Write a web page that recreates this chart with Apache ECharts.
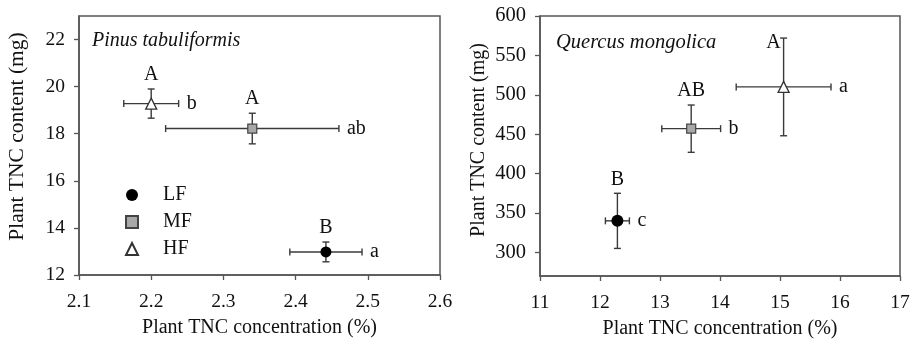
<!DOCTYPE html>
<html><head><meta charset="utf-8">
<script src="https://cdn.jsdelivr.net/npm/echarts@6/dist/echarts.min.js"></script>
<style>html,body{margin:0;padding:0;background:#fff}#c{width:914px;height:339px}</style>
</head><body><div id="c"></div>
<script>
// ---- data ----
const groups = ['LF', 'MF', 'HF'];
const pinusX = [2.442, 2.340, 2.200];
const pinusXErr = [0.050, 0.120, 0.038];
const pinusY = [12.98, 18.22, 19.28];
const pinusYErr = [0.42, 0.65, 0.62];
const pinusUpper = ['B', 'A', 'A'];
const pinusLower = ['a', 'ab', 'b'];
const quercusX = [12.29, 13.52, 15.06];
const quercusXErr = [0.20, 0.49, 0.79];
const quercusY = [340, 457, 510];
const quercusYErr = [35, 30, 62];
const quercusUpper = ['B', 'AB', 'A'];
const quercusLower = ['c', 'b', 'a'];
const pinusXTicks = [2.1, 2.2, 2.3, 2.4, 2.5, 2.6];
const pinusYTicks = [12, 14, 16, 18, 20, 22];
const quercusXTicks = [11, 12, 13, 14, 15, 16, 17];
const quercusYTicks = [300, 350, 400, 450, 500, 550, 600];
const speciesNames = ['Pinus tabuliformis', 'Quercus mongolica'];
const xTitle = 'Plant TNC concentration (%)';
const yTitle = 'Plant TNC content (mg)';

// ---- styling ----
const FONT = '"Liberation Serif", "Times New Roman", serif';
const AX = '#555';
const ERR = '#3a3a3a';
const TXT = '#111';
const symbolDefs = {
  LF: { symbol: 'circle', size: 11, itemStyle: { color: '#000', borderColor: '#000', borderWidth: 0, opacity: 1 } },
  MF: { symbol: 'rect', size: 9, itemStyle: { color: '#a8a8a8', borderColor: '#444', borderWidth: 1.2, opacity: 1 } },
  HF: { symbol: 'triangle', size: 11, itemStyle: { color: '#fff', borderColor: '#333', borderWidth: 1.3, opacity: 1 } }
};

function makeErr(xs, ys, xe, ye, up, lo, upLeftIdx) {
  return function (params, api) {
    const i = params.dataIndex;
    const c = api.coord([xs[i], ys[i]]);
    const l = api.coord([xs[i] - xe[i], ys[i]]);
    const r = api.coord([xs[i] + xe[i], ys[i]]);
    const t = api.coord([xs[i], ys[i] + ye[i]]);
    const b = api.coord([xs[i], ys[i] - ye[i]]);
    const cap = 3.5;
    const ls = { stroke: ERR, lineWidth: 1.4 };
    const line = (x1, y1, x2, y2) => ({ type: 'line', shape: { x1, y1, x2, y2 }, style: ls });
    const children = [
      line(l[0], c[1], r[0], c[1]),
      line(l[0], c[1] - cap, l[0], c[1] + cap),
      line(r[0], c[1] - cap, r[0], c[1] + cap),
      line(c[0], t[1], c[0], b[1]),
      line(c[0] - cap, t[1], c[0] + cap, t[1]),
      line(c[0] - cap, b[1], c[0] + cap, b[1])
    ];
    const font = { fontSize: 20, fontFamily: FONT, fill: TXT };
    if (i === upLeftIdx) {
      children.push({ type: 'text', style: Object.assign({ text: up[i], x: t[0] - 3, y: t[1] + 5, align: 'right', verticalAlign: 'middle' }, font) });
    } else {
      children.push({ type: 'text', style: Object.assign({ text: up[i], x: c[0], y: t[1] - 4, align: 'center', verticalAlign: 'bottom' }, font) });
    }
    children.push({ type: 'text', style: Object.assign({ text: lo[i], x: r[0] + 8, y: c[1], align: 'left', verticalAlign: 'middle' }, font) });
    return { type: 'group', children };
  };
}

function axisCommon(ticks, fmt, margin, fs) {
  return {
    type: 'value',
    axisLine: { show: true, lineStyle: { color: AX, width: 1.5 } },
    axisTick: { show: true, inside: false, length: 5, lineStyle: { color: AX, width: 1.3 }, customValues: ticks },
    axisLabel: { customValues: ticks, color: TXT, fontSize: fs, fontFamily: FONT, formatter: fmt, margin },
    splitLine: { show: false },
    nameLocation: 'middle'
  };
}

const series = [];
[[pinusX, pinusY, pinusXErr, pinusYErr, pinusUpper, pinusLower, -1],
 [quercusX, quercusY, quercusXErr, quercusYErr, quercusUpper, quercusLower, 2]].forEach((d, gi) => {
  const [xs, ys, xe, ye, up, lo, ul] = d;
  series.push({
    type: 'custom', xAxisIndex: gi, yAxisIndex: gi, z: 1, clip: false,
    renderItem: makeErr(xs, ys, xe, ye, up, lo, ul),
    data: xs.map((x, i) => [x, ys[i]]),
    encode: { x: 0, y: 1 }, silent: true
  });
  groups.forEach((g, i) => {
    const s = symbolDefs[g];
    series.push({
      type: 'scatter', name: g, xAxisIndex: gi, yAxisIndex: gi, z: 3,
      symbol: s.symbol, symbolSize: gi === 1 && g === 'LF' ? 12 : s.size,
      itemStyle: s.itemStyle,
      data: [[xs[i], ys[i]]]
    });
  });
});

const chart = echarts.init(document.getElementById('c'), null, { renderer: 'canvas' });
chart.setOption({
  backgroundColor: '#fff',
  animation: false,
  title: [
    { text: speciesNames[0], left: 92, top: 31, padding: 0, textStyle: { fontStyle: 'italic', fontWeight: 'normal', fontSize: 20, fontFamily: FONT, color: TXT } },
    { text: speciesNames[1], left: 556, top: 33, padding: 0, textStyle: { fontStyle: 'italic', fontWeight: 'normal', fontSize: 20.5, fontFamily: FONT, color: TXT } }
  ],
  legend: {
    left: 120, top: 180, orient: 'vertical', itemGap: 7, itemWidth: 12, itemHeight: 12,
    data: groups,
    textStyle: { fontSize: 20, fontFamily: FONT, color: TXT, padding: [0, 0, 0, 20] }
  },
  grid: [
    { left: 79, top: 16, width: 361, height: 259, show: true, borderColor: AX, borderWidth: 1.5, backgroundColor: 'transparent', outerBoundsMode: 'none', containLabel: false },
    { left: 540, top: 16, width: 360, height: 260, show: true, borderColor: AX, borderWidth: 1.5, backgroundColor: 'transparent', outerBoundsMode: 'none', containLabel: false }
  ],
  xAxis: [
    Object.assign(axisCommon(pinusXTicks, v => v.toFixed(1), 17, 19.5), { gridIndex: 0, min: 2.1, max: 2.6, name: xTitle, nameGap: 43,
      nameTextStyle: { color: TXT, fontSize: 20, fontFamily: FONT } }),
    Object.assign(axisCommon(quercusXTicks, v => String(v), 17, 19.5), { gridIndex: 1, min: 11, max: 17, name: xTitle, nameGap: 43,
      nameTextStyle: { color: TXT, fontSize: 20, fontFamily: FONT } })
  ],
  yAxis: [
    Object.assign(axisCommon(pinusYTicks, v => String(v), 14, 19.5), { gridIndex: 0, min: 12, max: 23, name: yTitle, nameGap: 51,
      nameTextStyle: { color: TXT, fontSize: 21.5, fontFamily: FONT, padding: [0, 0, 0, 18] } }),
    Object.assign(axisCommon(quercusYTicks, v => String(v), 14, 20.5), { gridIndex: 1, min: 270, max: 600, name: yTitle, nameGap: 51,
      nameTextStyle: { color: TXT, fontSize: 20, fontFamily: FONT, padding: [0, 0, 0, 12] } })
  ],
  series
});
</script></body></html>
